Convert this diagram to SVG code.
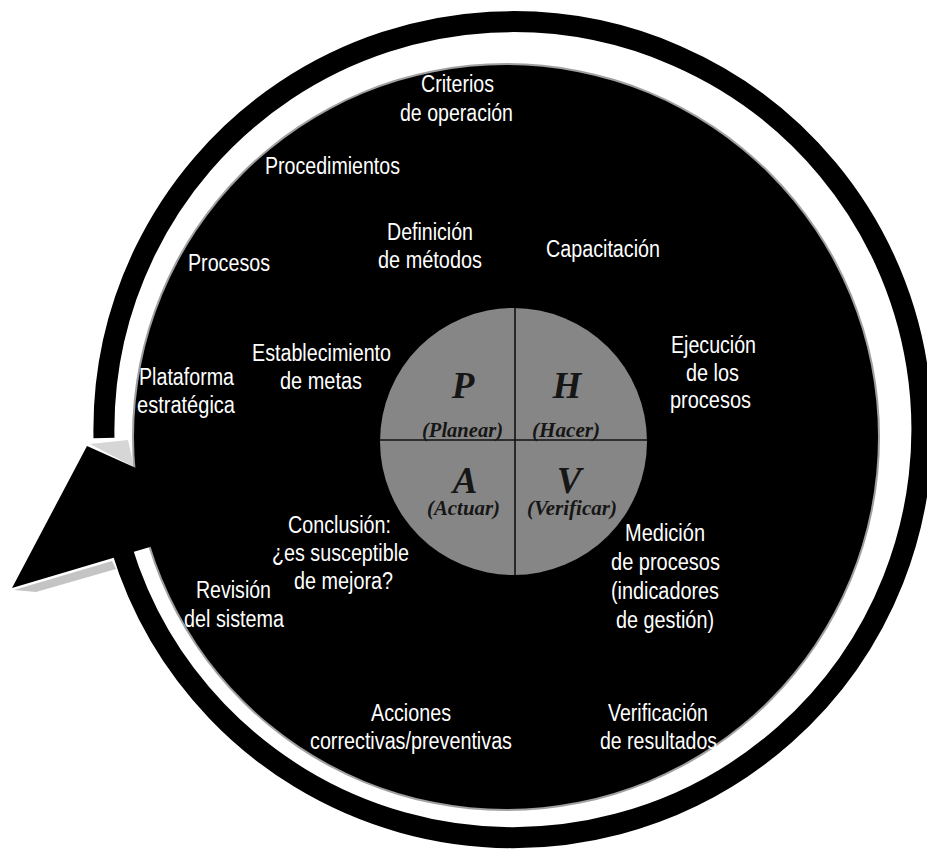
<svg xmlns="http://www.w3.org/2000/svg" width="927" height="862" viewBox="0 0 927 862">
  <style>
    .lbl { fill: #ffffff; font-family: "Liberation Sans", Arial, sans-serif; font-size: 23px; }
    .big { fill: #161616; font-family: "Liberation Serif", "Times New Roman", serif; font-weight: bold; font-style: italic; font-size: 37px; text-anchor: middle; }
    .sub { fill: #161616; font-family: "Liberation Serif", "Times New Roman", serif; font-weight: bold; font-style: italic; font-size: 20px; }
  </style>
  <rect x="0" y="0" width="927" height="862" fill="#ffffff"/>

  <g id="connectors">
    <!-- outer cycle ring ending in arrowhead -->
    <path id="cycle-ring" d="M 104 438 A 409 408 0 1 1 121.5 548" fill="none" stroke="#000" stroke-width="21"/>
    <!-- shadows of the arrowhead -->
    <polygon points="14,590 112,561 116,569 36,592" fill="#c4c4c4"/>
    <polygon points="90,444 128,440 134,467" fill="#d6d6d6"/>
  </g>

  <g id="main-disc">
    <circle cx="506" cy="437" r="374" fill="#a0a0a0"/>
    <circle cx="506" cy="437" r="372" fill="#000"/>
    <polygon id="arrowhead" points="87,446 12,588 150,547 260,500 136,468" fill="#000"/>
  </g>

  <g id="phva">
    <circle cx="513.5" cy="441.5" r="133.5" fill="#868686"/>
    <line x1="515" y1="308" x2="515" y2="575" stroke="#111" stroke-width="1.6"/>
    <line x1="380" y1="440" x2="647" y2="440" stroke="#111" stroke-width="1.6"/>
    <g id="q-p">
      <text class="big" x="463" y="398">P</text>
      <text class="sub" x="422" y="437" textLength="81" lengthAdjust="spacingAndGlyphs">(Planear)</text>
    </g>
    <g id="q-h">
      <text class="big" x="567" y="398">H</text>
      <text class="sub" x="532" y="437" textLength="68" lengthAdjust="spacingAndGlyphs">(Hacer)</text>
    </g>
    <g id="q-a">
      <text class="big" x="465" y="493">A</text>
      <text class="sub" x="427" y="515" textLength="73" lengthAdjust="spacingAndGlyphs">(Actuar)</text>
    </g>
    <g id="q-v">
      <text class="big" x="569" y="493">V</text>
      <text class="sub" x="527" y="515" textLength="90" lengthAdjust="spacingAndGlyphs">(Verificar)</text>
    </g>
  </g>

  <g id="n-criterios">
    <text class="lbl" x="421" y="92" textLength="73" lengthAdjust="spacingAndGlyphs">Criterios</text>
    <text class="lbl" x="400" y="121" textLength="113" lengthAdjust="spacingAndGlyphs">de operación</text>
  </g>
  <g id="n-procedimientos">
    <text class="lbl" x="265" y="174" textLength="135" lengthAdjust="spacingAndGlyphs">Procedimientos</text>
  </g>
  <g id="n-definicion">
    <text class="lbl" x="387" y="240" textLength="86" lengthAdjust="spacingAndGlyphs">Definición</text>
    <text class="lbl" x="378" y="268" textLength="104" lengthAdjust="spacingAndGlyphs">de métodos</text>
  </g>
  <g id="n-capacitacion">
    <text class="lbl" x="546" y="257" textLength="114" lengthAdjust="spacingAndGlyphs">Capacitación</text>
  </g>
  <g id="n-procesos">
    <text class="lbl" x="188" y="271" textLength="82" lengthAdjust="spacingAndGlyphs">Procesos</text>
  </g>
  <g id="n-establecimiento">
    <text class="lbl" x="252" y="361" textLength="139" lengthAdjust="spacingAndGlyphs">Establecimiento</text>
    <text class="lbl" x="280" y="389" textLength="82" lengthAdjust="spacingAndGlyphs">de metas</text>
  </g>
  <g id="n-plataforma">
    <text class="lbl" x="139" y="385" textLength="95" lengthAdjust="spacingAndGlyphs">Plataforma</text>
    <text class="lbl" x="137" y="413" textLength="98" lengthAdjust="spacingAndGlyphs">estratégica</text>
  </g>
  <g id="n-ejecucion">
    <text class="lbl" x="671" y="353" textLength="85" lengthAdjust="spacingAndGlyphs">Ejecución</text>
    <text class="lbl" x="686" y="381" textLength="53" lengthAdjust="spacingAndGlyphs">de los</text>
    <text class="lbl" x="670" y="408" textLength="81" lengthAdjust="spacingAndGlyphs">procesos</text>
  </g>
  <g id="n-conclusion">
    <text class="lbl" x="288" y="533" textLength="103" lengthAdjust="spacingAndGlyphs">Conclusión:</text>
    <text class="lbl" x="272" y="561" textLength="137" lengthAdjust="spacingAndGlyphs">¿es susceptible</text>
    <text class="lbl" x="294" y="589" textLength="99" lengthAdjust="spacingAndGlyphs">de mejora?</text>
  </g>
  <g id="n-revision">
    <text class="lbl" x="196" y="598" textLength="75" lengthAdjust="spacingAndGlyphs">Revisión</text>
    <text class="lbl" x="184" y="627" textLength="100" lengthAdjust="spacingAndGlyphs">del sistema</text>
  </g>
  <g id="n-medicion">
    <text class="lbl" x="625" y="541" textLength="80" lengthAdjust="spacingAndGlyphs">Medición</text>
    <text class="lbl" x="611" y="570" textLength="109" lengthAdjust="spacingAndGlyphs">de procesos</text>
    <text class="lbl" x="611" y="599" textLength="108" lengthAdjust="spacingAndGlyphs">(indicadores</text>
    <text class="lbl" x="616" y="628" textLength="98" lengthAdjust="spacingAndGlyphs">de gestión)</text>
  </g>
  <g id="n-acciones">
    <text class="lbl" x="371" y="721" textLength="80" lengthAdjust="spacingAndGlyphs">Acciones</text>
    <text class="lbl" x="310" y="749" textLength="202" lengthAdjust="spacingAndGlyphs">correctivas/preventivas</text>
  </g>
  <g id="n-verificacion">
    <text class="lbl" x="608" y="721" textLength="100" lengthAdjust="spacingAndGlyphs">Verificación</text>
    <text class="lbl" x="600" y="749" textLength="117" lengthAdjust="spacingAndGlyphs">de resultados</text>
  </g>
</svg>
